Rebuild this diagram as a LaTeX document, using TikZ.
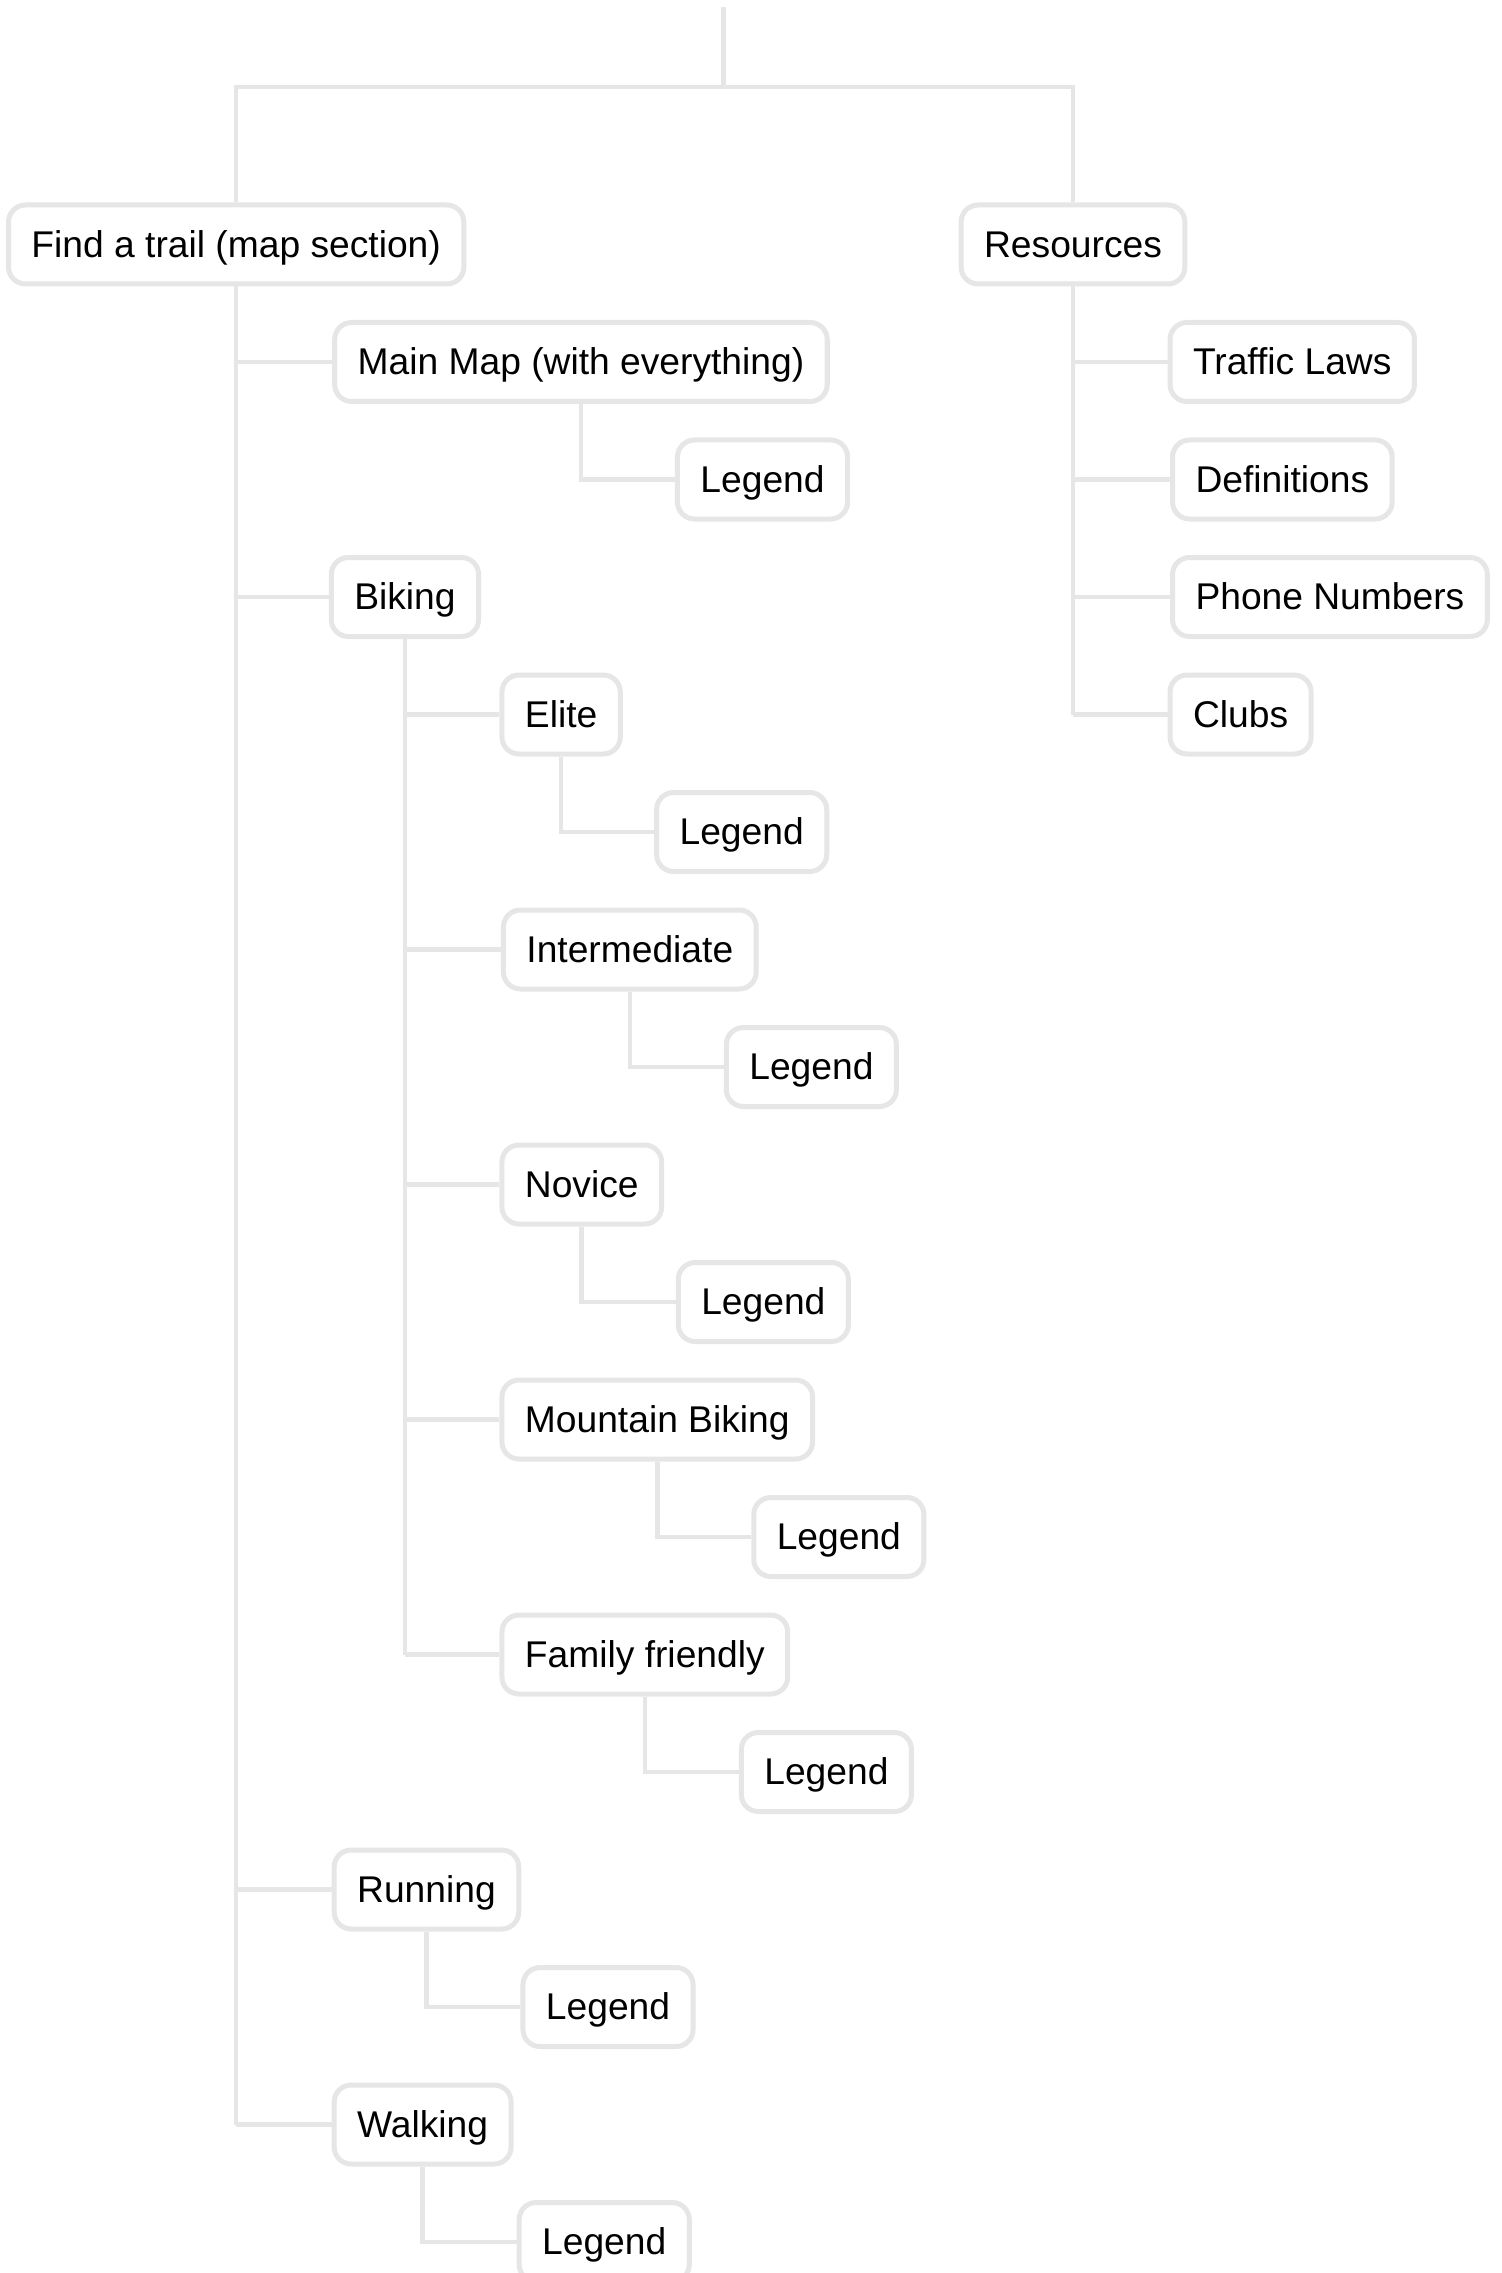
\documentclass[tikz,border=0pt]{standalone}
\usepackage{fontspec}
\setmainfont{Liberation Sans}
\definecolor{lg}{HTML}{E6E6E6}
\begin{document}
\begin{tikzpicture}[x=0.5pt,y=-0.5pt,
  box/.style={draw=lg, line width=2.5pt, rounded corners=8.5pt, fill=white,
    minimum height=39.5pt, inner xsep=11.5pt, inner ysep=0pt,
    text height=13.3pt, text depth=0.6pt, text=black,
    font=\fontsize{18.6}{22}\selectfont, anchor=west},
  conn/.style={draw=lg, line width=2.3pt}]
\useasboundingbox (0,0) rectangle (1501,2273);
% top-level
\coordinate (top) at (723.6,7);
\coordinate (bar) at (723.6,87);
\node[box] (fat) at (6,244.5) {Find a trail (map section)};
\node[box] (res) at (958.6,244.5) {Resources};
% Find a trail children
\path (fat.center) ++(96,117.5) node[box] (mm) {Main Map (with everything)};
\path (mm.center) ++(94,117.5) node[box] (mmL) {Legend};
\path (fat.center) ++(92.6,352.5) node[box] (bik) {Biking};
\path (bik.center) ++(94.5,117.5) node[box] (eli) {Elite};
\path (eli.center) ++(93,117.5) node[box] (eliL) {Legend};
\path (bik.center) ++(96,352.5) node[box] (int) {Intermediate};
\path (int.center) ++(94,117.5) node[box] (intL) {Legend};
\path (bik.center) ++(94.5,587.5) node[box] (nov) {Novice};
\path (nov.center) ++(94,117.5) node[box] (novL) {Legend};
\path (bik.center) ++(94.5,822.5) node[box] (mtb) {Mountain Biking};
\path (mtb.center) ++(94,117.5) node[box] (mtbL) {Legend};
\path (bik.center) ++(94.5,1057.5) node[box] (fam) {Family friendly};
\path (fam.center) ++(94,117.5) node[box] (famL) {Legend};
\path (fat.center) ++(95.5,1645) node[box] (run) {Running};
\path (run.center) ++(94,117.5) node[box] (runL) {Legend};
\path (fat.center) ++(95.5,1880) node[box] (wal) {Walking};
\path (wal.center) ++(94,117.5) node[box] (walL) {Legend};
% Resources children
\path (res.center) ++(94.5,117.5) node[box] (tra) {Traffic Laws};
\path (res.center) ++(97,235) node[box] (def) {Definitions};
\path (res.center) ++(97,352.5) node[box] (pho) {Phone Numbers};
\path (res.center) ++(94.5,470) node[box] (clu) {Clubs};
% connectors
\draw[conn] (top) -- (bar);
\draw[conn] (fat.north) |- (bar) -| (res.north);
\draw[conn] (fat.south) -- (fat.south |- wal.west);
\foreach \c in {mm,bik,run,wal} \draw[conn] (fat.south |- \c.west) -- (\c.west);
\draw[conn] (bik.south) -- (bik.south |- fam.west);
\foreach \c in {eli,int,nov,mtb,fam} \draw[conn] (bik.south |- \c.west) -- (\c.west);
\draw[conn] (res.south) -- (res.south |- clu.west);
\foreach \c in {tra,def,pho,clu} \draw[conn] (res.south |- \c.west) -- (\c.west);
\foreach \p in {mm,eli,int,nov,mtb,fam,run,wal} \draw[conn] (\p.south) |- (\p L.west);
\end{tikzpicture}
\end{document}
